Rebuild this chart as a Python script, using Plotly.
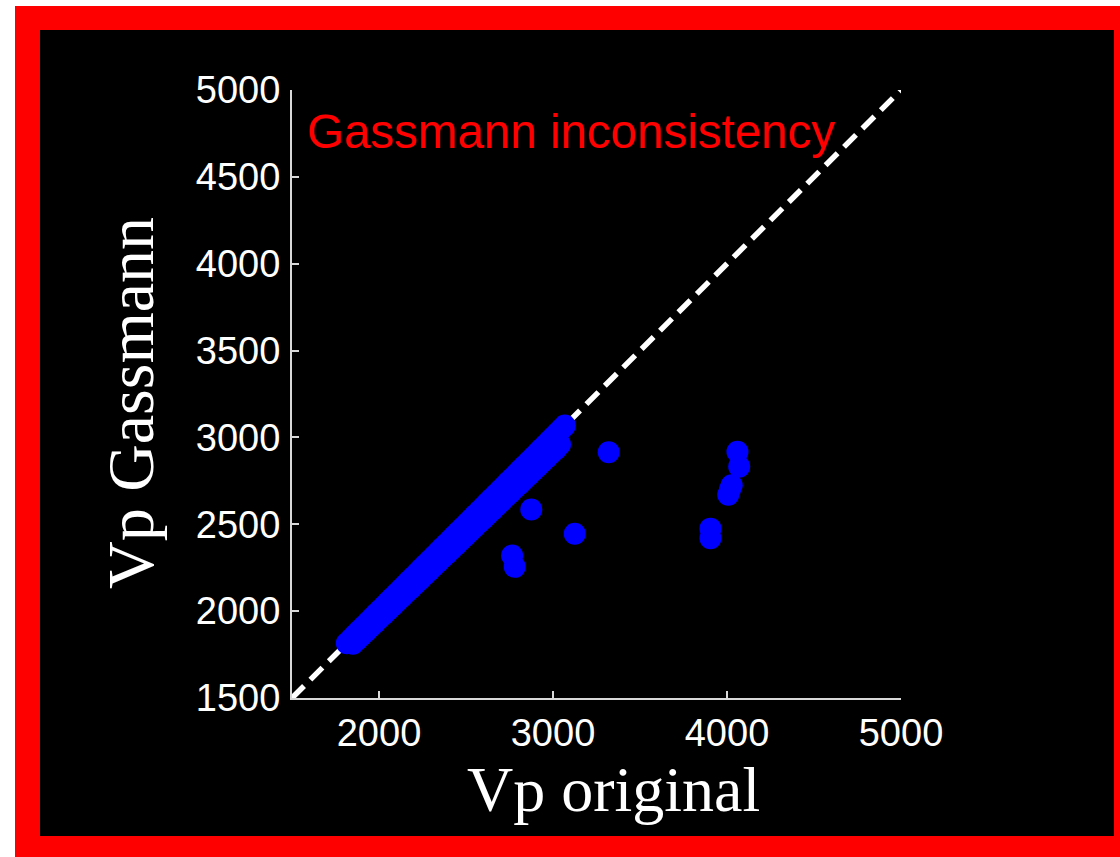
import plotly.graph_objects as go

# Vp values (m/s): original log vs Gassmann-predicted
vp_original = [
    1815, 1840, 1862, 1885, 1910, 1935, 1958, 1980, 2005, 2030, 2052, 2075,
    2100, 2125, 2148, 2170, 2195, 2220, 2242, 2265, 2290, 2315, 2338, 2360,
    2385, 2410, 2432, 2455, 2480, 2505, 2528, 2550, 2575, 2600, 2622, 2645,
    2670, 2695, 2718, 2740, 2765, 2790, 2812, 2835, 2860, 2885, 2908, 2930,
    2955, 2980, 3002, 3025, 3048, 3068,
    1850, 1875, 1900, 1928, 1952, 1978, 2004, 2030, 2056, 2082, 2108, 2134,
    2160, 2186, 2212, 2238, 2264, 2290, 2316, 2342, 2368, 2394, 2420, 2446,
    2472, 2498, 2524, 2550, 2576, 2602, 2628, 2654, 2680, 2706, 2732, 2758,
    2784, 2810, 2836, 2862, 2888, 2914, 2940, 2966, 2992, 3018, 3040,
    2765, 2780, 2875, 3125, 3320,
    3905, 3905, 4007, 4017, 4027, 4060, 4070,
]
vp_gassmann = [
    1815, 1840, 1862, 1885, 1910, 1935, 1958, 1980, 2005, 2030, 2052, 2075,
    2100, 2125, 2148, 2170, 2195, 2220, 2242, 2265, 2290, 2315, 2338, 2360,
    2385, 2410, 2432, 2455, 2480, 2505, 2528, 2550, 2575, 2600, 2622, 2645,
    2670, 2695, 2718, 2740, 2765, 2790, 2812, 2835, 2860, 2885, 2908, 2930,
    2955, 2980, 3002, 3025, 3048, 3068,
    1812, 1836, 1860, 1886, 1910, 1934, 1960, 1984, 2010, 2034, 2060, 2084,
    2110, 2134, 2160, 2184, 2210, 2234, 2260, 2284, 2310, 2334, 2360, 2384,
    2410, 2434, 2460, 2484, 2510, 2534, 2560, 2584, 2610, 2634, 2660, 2684,
    2710, 2734, 2760, 2784, 2810, 2834, 2860, 2884, 2910, 2934, 2960,
    2320, 2255, 2585, 2445, 2915,
    2475, 2420, 2670, 2700, 2725, 2918, 2832,
]

# one-to-one reference line
ref_line = [1500, 5000]

x_ticks = [2000, 3000, 4000, 5000]
y_ticks = [1500, 2000, 2500, 3000, 3500, 4000, 4500, 5000]

W, H = 1120, 857
L, R, T, B = 292, 901, 90, 698


def px(v):
    return (v - L) / (R - L)


def py(v):
    return (B - v) / (B - T)


fig = go.Figure()
fig.add_trace(go.Scatter(
    x=ref_line, y=ref_line, mode="lines",
    line=dict(color="white", width=5.5, dash="17px,9px"),
    hoverinfo="skip", showlegend=False,
))
fig.add_trace(go.Scatter(
    x=vp_original, y=vp_gassmann, mode="markers",
    marker=dict(color="#0000ff", size=22, line=dict(width=0)),
    showlegend=False,
))

axis_common = dict(
    showgrid=False, zeroline=False, showline=True, linecolor="#d9d9d9",
    linewidth=2, ticks="inside", ticklen=7, tickcolor="#d9d9d9", tickwidth=2,
    tickfont=dict(family="Liberation Sans, Arial", size=38, color="white"),
    mirror=False,
)

fig.update_layout(
    width=W, height=H,
    margin=dict(l=L, r=W - R, t=T, b=H - B, pad=0),
    paper_bgcolor="#ff0000",
    plot_bgcolor="black",
    xaxis=dict(range=[1500, 5000], tickvals=x_ticks, **axis_common),
    yaxis=dict(range=[1500, 5000], tickvals=y_ticks, ticklabelstandoff=2,
               **axis_common),
    shapes=[
        dict(type="rect", xref="paper", yref="paper", layer="below",
             x0=px(-50), x1=px(15), y0=py(-50), y1=py(H + 50),
             fillcolor="white", line=dict(width=0)),
        dict(type="rect", xref="paper", yref="paper", layer="below",
             x0=px(-50), x1=px(W + 50), y0=py(6), y1=py(-50),
             fillcolor="white", line=dict(width=0)),
        dict(type="rect", xref="paper", yref="paper", layer="below",
             x0=px(40), x1=px(1114), y0=py(836), y1=py(30),
             fillcolor="black", line=dict(width=0)),
    ],
    annotations=[
        dict(text="Gassmann inconsistency", xref="paper", yref="paper",
             x=px(305), y=py(132), xanchor="left", yanchor="middle",
             showarrow=False,
             font=dict(family="Liberation Sans, Arial", size=47.5, color="#ff0000")),
        dict(text="Vp Gassmann", xref="paper", yref="paper",
             x=px(130), y=py(403), xanchor="center", yanchor="middle",
             textangle=-90, showarrow=False,
             font=dict(family="Liberation Serif, Times New Roman", size=66,
                       color="white")),
        dict(text="Vp original", xref="paper", yref="paper",
             x=px(613), y=py(752), xanchor="center", yanchor="top",
             showarrow=False,
             font=dict(family="Liberation Serif, Times New Roman", size=64,
                       color="white")),
    ],
)

fig.write_html("out.html")
